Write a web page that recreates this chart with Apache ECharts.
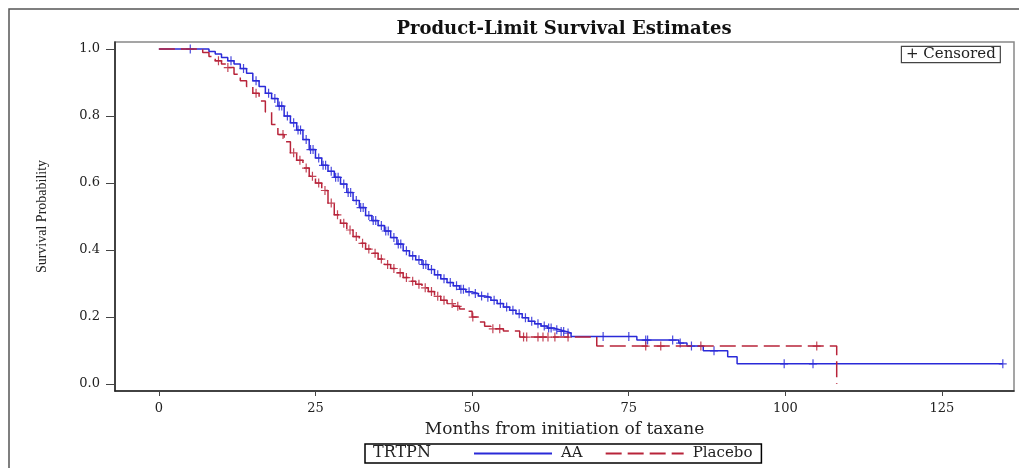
<!DOCTYPE html>
<html>
<head>
<meta charset="utf-8">
<script src="https://cdn.jsdelivr.net/npm/echarts@6/dist/echarts.min.js"></script>
<style>
  html, body { margin: 0; padding: 0; background: #fff; }
  #chart { width: 1019px; height: 468px; }
</style>
</head>
<body>
<div id="chart"></div>
<script>
// KM step points [month, survival]
const aaCurve = [
  [0, 1.0], [7, 1.0], [8, 0.993], [9, 0.985], [10, 0.975], [11, 0.965], [12, 0.955],
  [13, 0.942], [14, 0.928], [15, 0.905], [16, 0.888], [17, 0.868], [18, 0.852],
  [19, 0.83], [20, 0.8], [21, 0.78], [22, 0.758], [23, 0.73], [24, 0.7], [25, 0.675],
  [26, 0.653], [27, 0.635], [28, 0.617], [29, 0.597], [30, 0.572], [31, 0.548],
  [32, 0.527], [33, 0.503], [34, 0.488], [35, 0.473], [36, 0.457], [37, 0.437],
  [38, 0.418], [39, 0.398], [40, 0.383], [41, 0.371], [42, 0.357], [43, 0.342],
  [44, 0.326], [45, 0.314], [46, 0.303], [47, 0.293], [48, 0.283], [49, 0.275],
  [50, 0.27], [51, 0.263], [52, 0.259], [53, 0.25], [54, 0.24], [55, 0.23], [56, 0.22],
  [57, 0.21], [58, 0.198], [59, 0.187], [60, 0.18], [61, 0.173], [62, 0.167],
  [63, 0.162], [64, 0.157], [65, 0.152], [65.8, 0.142], [76.3, 0.131], [83, 0.122],
  [84.3, 0.113], [86.9, 0.099], [90.8, 0.081], [92.3, 0.06], [134.7, 0.06]
];

const placeboCurve = [
  [0, 1.0], [6, 1.0], [7, 0.99], [8, 0.978], [9, 0.965], [10, 0.955], [11, 0.945],
  [12, 0.925], [13, 0.905], [14, 0.888], [15, 0.868], [16, 0.845], [17, 0.812],
  [18, 0.775], [19, 0.745], [20, 0.723], [21, 0.69], [22, 0.668], [23, 0.645],
  [24, 0.62], [25, 0.6], [26, 0.578], [27, 0.54], [28, 0.505], [29, 0.48], [30, 0.46],
  [31, 0.44], [32, 0.42], [33, 0.403], [34, 0.39], [35, 0.373], [36, 0.357],
  [37, 0.345], [38, 0.332], [39, 0.318], [40, 0.307], [41, 0.298], [42, 0.287],
  [43, 0.276], [44, 0.262], [45, 0.25], [46, 0.24], [47, 0.232], [48, 0.224],
  [49, 0.217], [50, 0.2], [51, 0.185], [52, 0.172], [53, 0.165], [55, 0.158],
  [57.6, 0.14], [69.9, 0.113], [108.2, 0.0]
];

// censored observations [month, survival]
const aaCensored = [
  [5, 1.0], [11.5, 0.965], [13.5, 0.942], [15.5, 0.905], [17.5, 0.868], [18.5, 0.852],
  [19.2, 0.83], [19.6, 0.83], [20.5, 0.8], [21.5, 0.78], [22.2, 0.758], [22.6, 0.758],
  [23.5, 0.73], [24.2, 0.7], [24.6, 0.7], [25.5, 0.675], [26.2, 0.653], [26.6, 0.653],
  [27.5, 0.635], [28.2, 0.617], [28.6, 0.617], [29.5, 0.597], [30.2, 0.572],
  [30.6, 0.572], [31.5, 0.548], [32.2, 0.527], [32.6, 0.527], [33.5, 0.503],
  [34.2, 0.488], [34.6, 0.488], [35.5, 0.473], [36.2, 0.457], [36.6, 0.457],
  [37.5, 0.437], [38.2, 0.418], [38.6, 0.418], [39.5, 0.398], [40.5, 0.383],
  [41.5, 0.371], [42.2, 0.357], [42.6, 0.357], [43.5, 0.342], [44.5, 0.326],
  [45.5, 0.314], [46.5, 0.303], [47.5, 0.293], [48.2, 0.283], [48.6, 0.283],
  [49.5, 0.275], [50.5, 0.27], [51.5, 0.263], [52.5, 0.259], [53.5, 0.25],
  [54.5, 0.24], [55.5, 0.23], [56.5, 0.22], [57.5, 0.21], [58.5, 0.198],
  [59.5, 0.187], [60.5, 0.18], [61.5, 0.173], [62.2, 0.167], [62.6, 0.167],
  [63.5, 0.162], [64.2, 0.157], [64.6, 0.157], [65.3, 0.152], [70.9, 0.142],
  [75, 0.142], [77.7, 0.131], [78, 0.131], [82, 0.131], [83.2, 0.122], [85, 0.113],
  [88.6, 0.099], [99.8, 0.06], [104.4, 0.06], [134.7, 0.06]
];

const placeboCensored = [
  [9.5, 0.965], [11, 0.945], [15.5, 0.868], [19.8, 0.745], [21.5, 0.69], [22.5, 0.668],
  [23.5, 0.645], [24.5, 0.62], [25.5, 0.6], [26.5, 0.578], [27.5, 0.54], [28.5, 0.505],
  [29.5, 0.48], [30.5, 0.46], [31.5, 0.44], [32.5, 0.42], [33.5, 0.403], [34.5, 0.39],
  [35.5, 0.373], [36.5, 0.357], [37.5, 0.345], [38.5, 0.332], [39.5, 0.318],
  [40.5, 0.307], [41.5, 0.298], [42.5, 0.287], [43.5, 0.276], [44.5, 0.262],
  [45.5, 0.25], [46.8, 0.24], [47.7, 0.232], [50.1, 0.2], [53.3, 0.165], [54.4, 0.165],
  [58.2, 0.14], [58.7, 0.14], [60.5, 0.14], [61.3, 0.14], [62.1, 0.14], [63.2, 0.14],
  [65.3, 0.14], [77.7, 0.113], [80.1, 0.113], [86.5, 0.113], [105, 0.113]
];

const xTicks = [0, 25, 50, 75, 100, 125];
const yTicks = [0, 0.2, 0.4, 0.6, 0.8, 1.0];

const blue = '#2a2ad8';
const red = '#b8243a';
const serif = 'DejaVu Serif';
const plusMark = 'path://M3.5,0h1.2v9h-1.2zM0,4h8v1.2h-8z';

const chart = echarts.init(document.getElementById('chart'));

const option = {
  animation: false,
  backgroundColor: '#fff',
  grid: {
    left: 115, right: 5, top: 42, bottom: 77,
    show: true, borderColor: '#888', borderWidth: 1.5
  },
  xAxis: {
    type: 'value',
    min: -7,
    max: 136.5,
    name: 'Months from initiation of taxane',
    nameLocation: 'middle',
    nameGap: 30,
    nameTextStyle: { fontFamily: serif, fontSize: 17, color: '#222' },
    axisLine: { onZero: false, lineStyle: { color: '#222', width: 1.5 } },
    axisTick: { customValues: xTicks, length: 5, lineStyle: { color: '#444' } },
    axisLabel: {
      customValues: xTicks, margin: 11,
      fontFamily: serif, fontSize: 13, color: '#222'
    },
    splitLine: { show: false }
  },
  yAxis: {
    type: 'value',
    min: -0.021,
    max: 1.021,
    name: 'Survival Probability',
    nameLocation: 'middle',
    nameGap: 66,
    nameTextStyle: { fontFamily: 'Liberation Serif', fontSize: 14, color: '#222' },
    axisLine: { onZero: false, lineStyle: { color: '#222', width: 1.5 } },
    axisTick: { customValues: yTicks, length: 9, lineStyle: { color: '#444' } },
    axisLabel: {
      customValues: yTicks, margin: 15,
      fontFamily: serif, fontSize: 13, color: '#222',
      formatter: (v) => v.toFixed(1)
    },
    splitLine: { show: false }
  },
  legend: {
    data: ['AA', 'Placebo'],
    left: 365,
    top: 444,
    padding: [2, 9, 2, 108],
    borderColor: '#000',
    borderWidth: 1.5,
    itemWidth: 78,
    itemHeight: 12,
    itemGap: 22,
    itemStyle: { opacity: 0 },
    textStyle: { fontFamily: serif, fontSize: 15, color: '#222', padding: [0, 0, 0, 4] }
  },
  graphic: [
    {
      type: 'rect',
      silent: true,
      shape: { x: 9, y: 9, width: 1040, height: 500 },
      style: { fill: 'none', stroke: '#555', lineWidth: 1.5 }
    },
    {
      type: 'text',
      x: 564, y: 29,
      style: {
        text: 'Product-Limit Survival Estimates',
        font: 'bold 18px "DejaVu Serif"',
        fill: '#111', align: 'center', verticalAlign: 'middle'
      }
    },
    {
      type: 'text',
      x: 902, y: 47,
      style: {
        text: '+ Censored',
        font: '15px "DejaVu Serif"',
        fill: '#222',
        padding: [0, 4, 0, 4],
        borderColor: '#444', borderWidth: 1.2,
        backgroundColor: '#fff'
      }
    },
    {
      type: 'text',
      x: 373, y: 453,
      style: {
        text: 'TRTPN',
        font: '16px "DejaVu Serif"',
        fill: '#222', verticalAlign: 'middle'
      }
    }
  ],
  series: [
    {
      name: 'AA',
      type: 'line',
      step: 'end',
      symbol: 'none',
      lineStyle: { color: blue, width: 1.5 },
      itemStyle: { color: blue },
      data: aaCurve
    },
    {
      name: 'Placebo',
      type: 'line',
      step: 'end',
      symbol: 'none',
      lineStyle: { color: red, width: 1.5, type: [16, 6] },
      itemStyle: { color: red },
      data: placeboCurve
    },
    {
      name: 'AA censored',
      type: 'scatter',
      symbol: plusMark,
      symbolSize: [8, 9],
      itemStyle: { color: blue, opacity: 0.85 },
      data: aaCensored
    },
    {
      name: 'Placebo censored',
      type: 'scatter',
      symbol: plusMark,
      symbolSize: [8, 9],
      itemStyle: { color: red, opacity: 0.85 },
      data: placeboCensored
    }
  ]
};

chart.setOption(option);
</script>
</body>
</html>
